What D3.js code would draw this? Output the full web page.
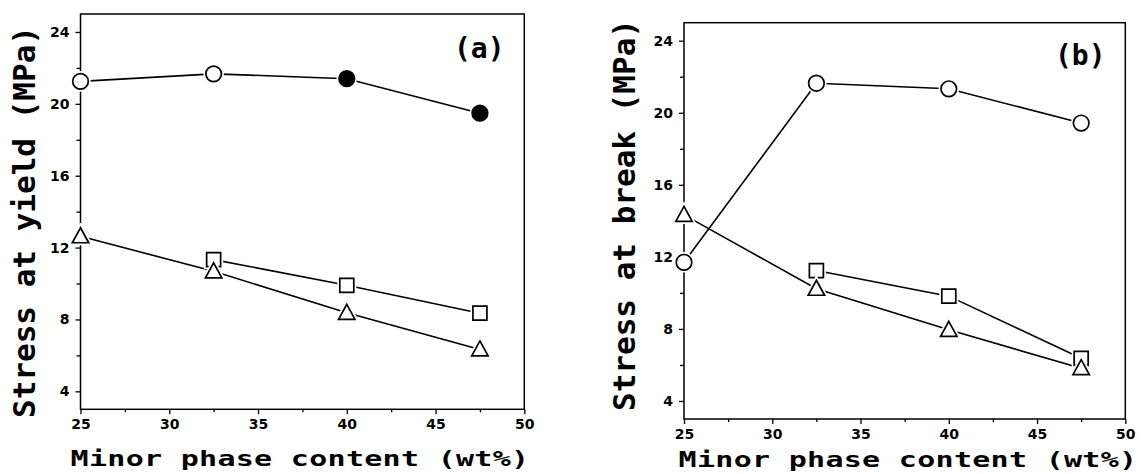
<!DOCTYPE html>
<html>
<head>
<meta charset="utf-8">
<script src="https://cdn.jsdelivr.net/npm/d3@7"></script>
<style>
  html, body { margin: 0; padding: 0; background: #fff; }
  svg { display: block; }
</style>
</head>
<body>
<div id="chart"></div>
<script>
// Data
const xValues = [25, 32.5, 40, 47.5];
const xTicks = [25, 30, 35, 40, 45, 50];
const xMinorTicks = [27.5, 32.5, 37.5, 42.5, 47.5];
const yTicks = [4, 8, 12, 16, 20, 24];
const yMinorTicks = [6, 10, 14, 18, 22];

// (a) stress at yield
const yieldCircle = [21.25, 21.67, 21.4, 19.48];
const yieldCircleFilled = [false, false, true, true];
const yieldSquare = [null, 11.33, 9.9, 8.35];
const yieldTriangle = [12.63, 10.68, 8.37, 6.33];

// (b) stress at break
const breakCircle = [11.7, 21.64, 21.33, 19.43];
const breakCircleFilled = [false, false, false, false];
const breakSquare = [null, 11.24, 9.82, 6.37];
const breakTriangle = [14.33, 10.23, 7.95, 5.82];

const W = 1143, H = 474;
const titleFont = "'DejaVu Sans Mono', monospace";
const tickFont = "'DejaVu Sans', sans-serif";

const svg = d3.select("#chart").append("svg")
  .attr("width", W).attr("height", H)
  .attr("viewBox", `0 0 ${W} ${H}`);

function drawPanel(p) {
  const x = d3.scaleLinear().domain([25, 50]).range([p.left, p.right]);
  const y = d3.scaleLinear().domain([3, 25]).range([p.bottom, p.top]);
  const g = svg.append("g");

  // axes
  const xAxis = g.append("g")
    .attr("transform", `translate(0,${p.bottom})`)
    .call(d3.axisBottom(x).tickValues(xTicks).tickSize(5).tickPadding(5).tickFormat(d3.format("d")));
  const xMinor = g.append("g")
    .attr("transform", `translate(0,${p.bottom})`)
    .call(d3.axisBottom(x).tickValues(xMinorTicks).tickSize(3).tickFormat(""));
  const yAxis = g.append("g")
    .attr("transform", `translate(${p.left},0)`)
    .call(d3.axisLeft(y).tickValues(yTicks).tickSize(5).tickPadding(6));
  const yMinor = g.append("g")
    .attr("transform", `translate(${p.left},0)`)
    .call(d3.axisLeft(y).tickValues(yMinorTicks).tickSize(4).tickFormat(""));

  [xAxis, xMinor, yAxis, yMinor].forEach(a => {
    a.attr("font-size", null);
    a.select(".domain").remove();
    a.selectAll(".tick line").attr("stroke", "#000").attr("stroke-width", 1.3);
    a.selectAll("text")
      .attr("fill", "#000")
      .attr("font-family", tickFont)
      .attr("font-weight", "bold")
      .style("font-size", "14px");
  });

  // frame
  g.append("rect")
    .attr("x", p.left).attr("y", p.top)
    .attr("width", p.right - p.left).attr("height", p.bottom - p.top)
    .attr("fill", "none").attr("stroke", "#000").attr("stroke-width", 1.5);

  // lines
  const line = d3.line()
    .defined(d => d[1] != null)
    .x(d => x(d[0])).y(d => y(d[1]));

  p.series.forEach(s => {
    const pts = xValues.map((v, i) => [v, s.values[i], s.filled ? s.filled[i] : false]);
    g.append("path")
      .datum(pts)
      .attr("d", line)
      .attr("fill", "none")
      .attr("stroke", "#000")
      .attr("stroke-width", 1.6);
  });

  // markers (white halo first, then the symbol)
  p.series.forEach(s => {
    const pts = xValues.map((v, i) => [v, s.values[i], s.filled ? s.filled[i] : false])
      .filter(d => d[1] != null);
    const shape = d => {
      if (s.shape === "circle") return d3.arc()({innerRadius: 0, outerRadius: 7.8, startAngle: 0, endAngle: 2 * Math.PI});
      if (s.shape === "square") return "M-7,-7H7V7H-7Z";
      return "M0,-8.5L8.2,6.5H-8.2Z";
    };
    ["halo", "mark"].forEach(layer => {
      g.selectAll(null)
        .data(pts)
        .enter()
        .append("path")
        .attr("transform", d => `translate(${x(d[0])},${y(d[1])})`)
        .attr("d", shape)
        .attr("fill", d => layer === "mark" && d[2] ? "#000" : "#fff")
        .attr("stroke", layer === "halo" ? "#fff" : "#000")
        .attr("stroke-width", layer === "halo" ? 5 : 1.7)
        .attr("stroke-linejoin", "miter");
    });
  });

  // panel label
  g.append("text")
    .attr("x", p.labelX).attr("y", p.labelY)
    .attr("font-family", titleFont)
    .attr("font-weight", "bold")
    .attr("font-size", "28px")
    .text(p.label);

  // x title (font is squashed vertically in the original)
  g.append("text")
    .attr("transform", `translate(${p.xTitleX},${p.xTitleY}) scale(1,0.73)`)
    .attr("text-anchor", "middle")
    .attr("font-family", titleFont)
    .attr("font-weight", "bold")
    .attr("font-size", "30px")
    .attr("letter-spacing", "0.3px")
    .text("Minor phase content (wt%)");

  // y title
  g.append("text")
    .attr("transform", `translate(${p.yTitleX},${p.yTitleY}) rotate(-90)`)
    .attr("text-anchor", "middle")
    .attr("font-family", titleFont)
    .attr("font-weight", "bold")
    .attr("font-size", "31px")
    .text(p.yTitle);
}

drawPanel({
  left: 80.5, right: 524.3, top: 14, bottom: 409.3,
  label: "(a)", labelX: 454, labelY: 58,
  xTitleX: 300, xTitleY: 466,
  yTitle: "Stress at yield (MPa)", yTitleX: 35, yTitleY: 222,
  series: [
    { shape: "circle", values: yieldCircle, filled: yieldCircleFilled },
    { shape: "square", values: yieldSquare },
    { shape: "triangle", values: yieldTriangle }
  ]
});

drawPanel({
  left: 684, right: 1125.3, top: 22.7, bottom: 419,
  label: "(b)", labelX: 1055, labelY: 65,
  xTitleX: 908, xTitleY: 467,
  yTitle: "Stress at break (MPa)", yTitleX: 635, yTitleY: 215,
  series: [
    { shape: "circle", values: breakCircle, filled: breakCircleFilled },
    { shape: "square", values: breakSquare },
    { shape: "triangle", values: breakTriangle }
  ]
});
</script>
</body>
</html>
